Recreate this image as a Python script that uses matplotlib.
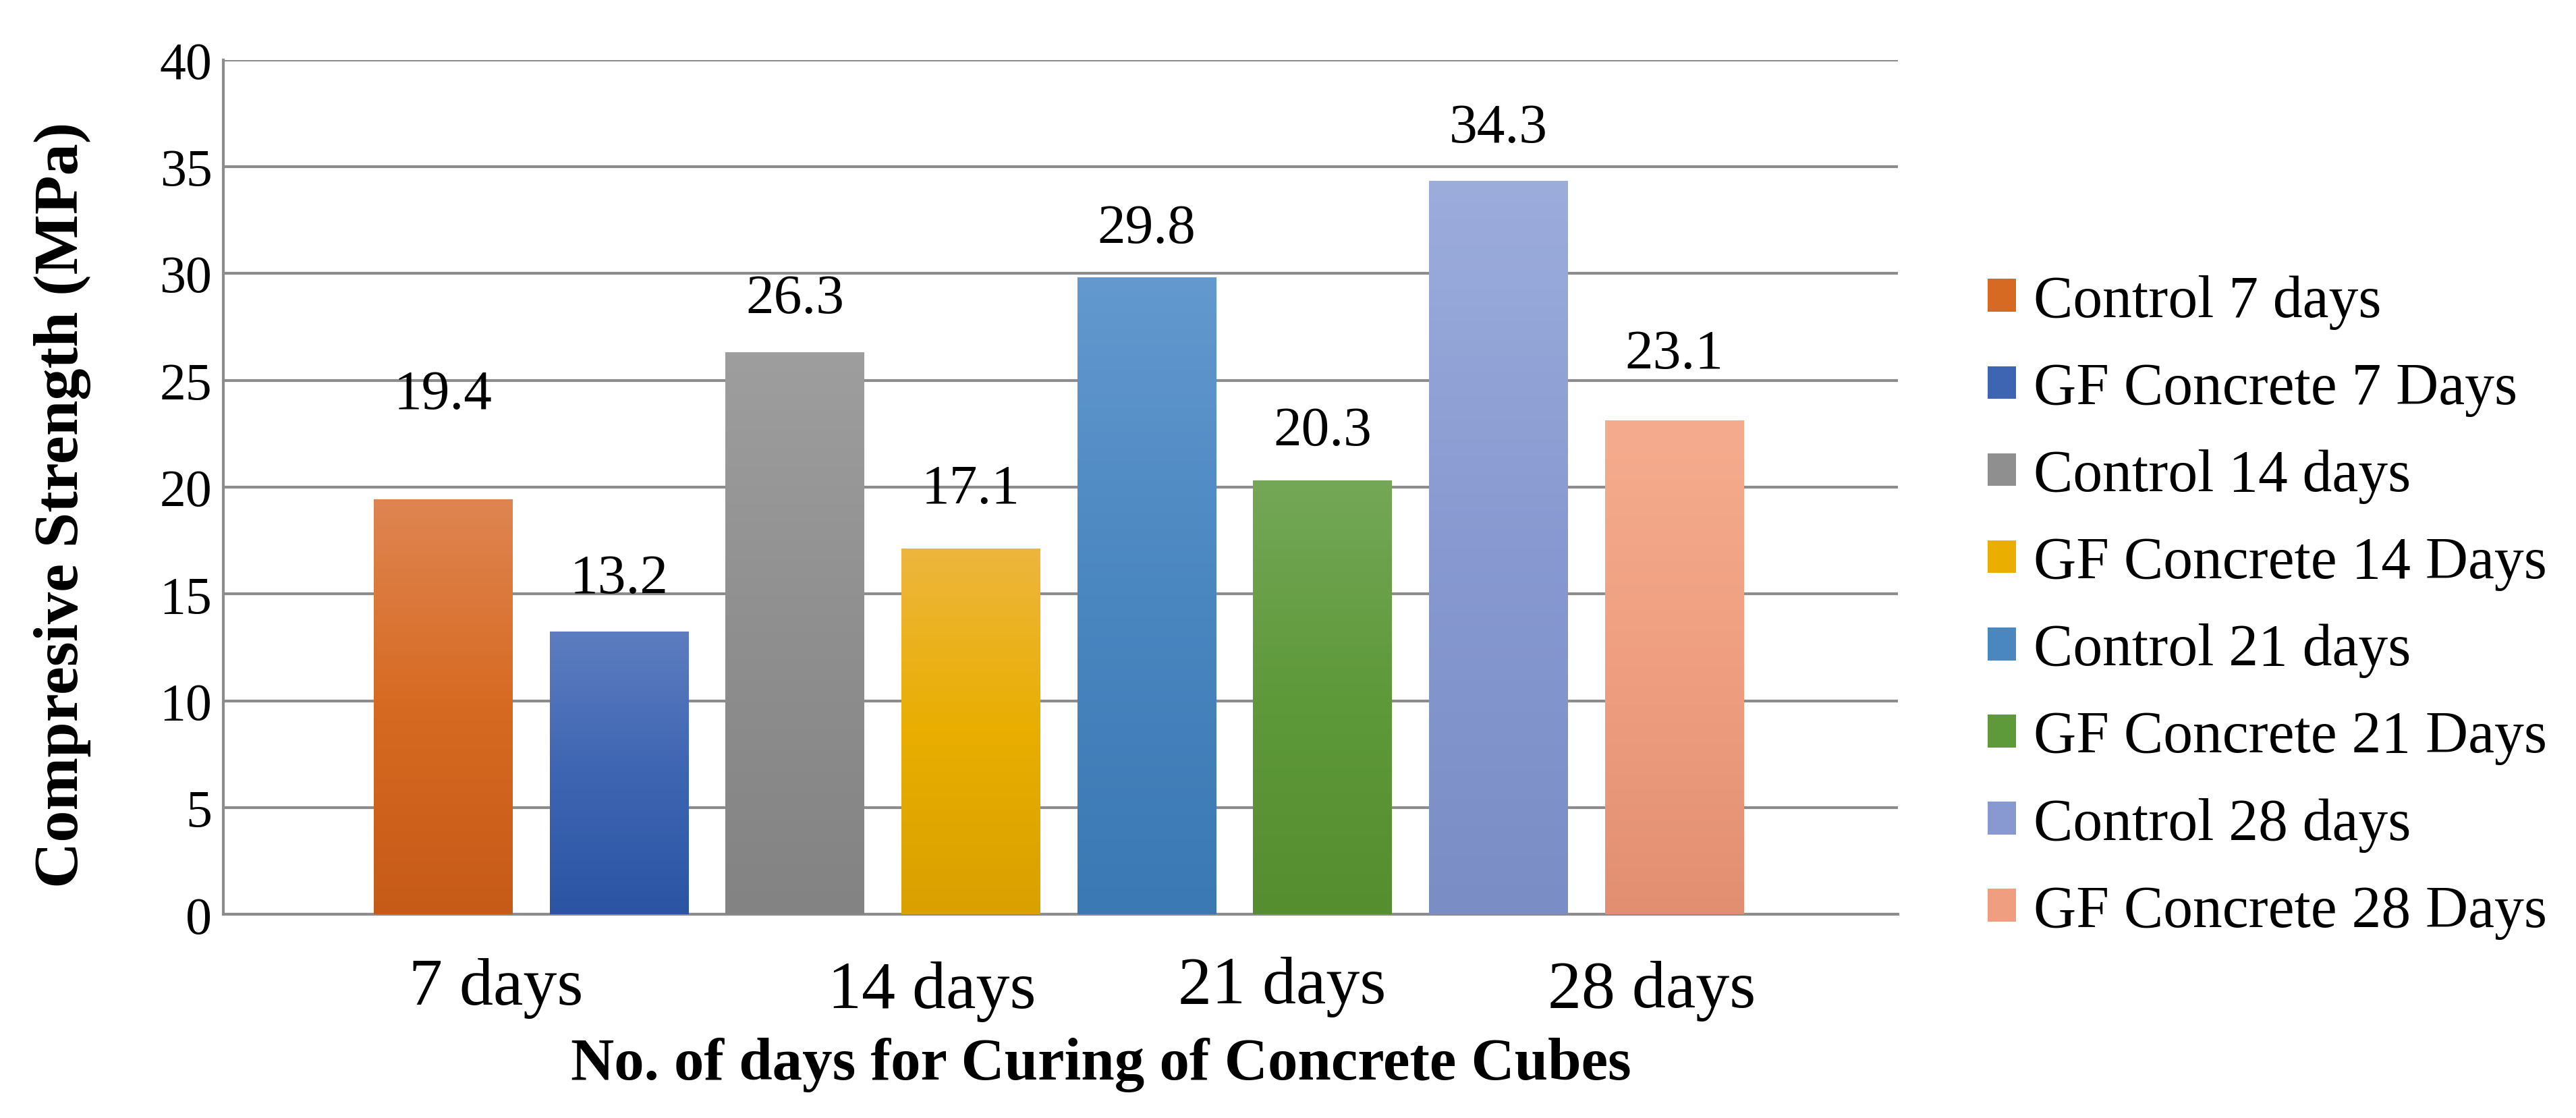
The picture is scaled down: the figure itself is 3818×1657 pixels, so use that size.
import numpy as np
import matplotlib
matplotlib.use("Agg")
import matplotlib.pyplot as plt
from matplotlib.colors import LinearSegmentedColormap
from matplotlib.patches import Patch

series = ["Control 7 days", "GF Concrete 7 Days", "Control 14 days", "GF Concrete 14 Days",
          "Control 21 days", "GF Concrete 21 Days", "Control 28 days", "GF Concrete 28 Days"]
values = [19.4, 13.2, 26.3, 17.1, 29.8, 20.3, 34.3, 23.1]
categories = ["7 days", "14 days", "21 days", "28 days"]
yticks = [0, 5, 10, 15, 20, 25, 30, 35, 40]

# styling (gradient top / bottom colours)
top_colors = ["#DF8552", "#5D7DC0", "#9E9E9E", "#EDB63E", "#6399CE", "#74A757", "#9CADDC", "#F5AC8E"]
mid_colors = ["#D76A22", "#3E65B2", "#8F8F8F", "#E9AE00", "#4A86C0", "#5E993A", "#8799D0", "#EF9F80"]
bot_colors = ["#C65A18", "#2B55A3", "#838383", "#D9A000", "#3B79B4", "#558E2E", "#7A8EC5", "#E28F71"]
label_offsets = [4.9, 2.5, 2.5, 2.8, 2.3, 2.3, 2.5, 3.1]
cat_label_pos = [0.30, 2.78, 4.77, 6.87]
cat_label_dy = [0, 4, -1, 3]

FONT = "Liberation Serif"
plt.rcParams["font.family"] = [FONT, "DejaVu Serif"]

fig = plt.figure(figsize=(38.18, 16.58), dpi=100)
ax = fig.add_axes([0.0867, 0.182, 0.650, 0.764])

x = np.arange(len(values))
width = 0.79
bars = ax.bar(x, values, width=width, color=mid_colors, zorder=3)
for i, b in enumerate(bars):
    cmap = LinearSegmentedColormap.from_list("g%d" % i, [bot_colors[i], mid_colors[i], top_colors[i]])
    grad = np.linspace(1, 0, 256).reshape(-1, 1)
    ax.imshow(grad, extent=[b.get_x(), b.get_x() + b.get_width(), 0, b.get_height()],
              aspect="auto", cmap=cmap, zorder=4, interpolation="bicubic")
    b.set_alpha(0)
    ax.text(b.get_x() + b.get_width() / 2, values[i] + label_offsets[i], "%.1f" % values[i],
            ha="center", va="center", fontsize=60, zorder=5)

ax.set_xlim(-1.25, 8.27)
ax.set_ylim(0, 40)
ax.set_yticks(yticks)
ax.set_yticklabels([str(t) for t in yticks], fontsize=56)
ax.yaxis.grid(True, color="#8C8C8C", linewidth=3.0, zorder=0)
ax.set_axisbelow(True)
ax.tick_params(axis="y", length=0, pad=12)
ax.set_xticks([])
for i, (p, c) in enumerate(zip(cat_label_pos, categories)):
    ax.annotate(c, xy=(p, 0), xycoords="data", xytext=(0, -78 - cat_label_dy[i]),
                textcoords="offset points", ha="center", va="center", fontsize=72)

for s in ["top", "right"]:
    ax.spines[s].set_visible(False)
ax.spines["left"].set_color("#8C8C8C")
ax.spines["left"].set_linewidth(3.0)
ax.spines["bottom"].set_color("#8C8C8C")
ax.spines["bottom"].set_linewidth(3.0)

ax.set_ylabel("Compresive Strength (MPa)", fontsize=68, fontweight="bold")
ax.yaxis.set_label_coords(-0.079, 0.48)
fig.text(0.4275, 0.048, "No. of days for Curing of Concrete Cubes", ha="center", va="center",
         fontsize=64, fontweight="bold")

handles = [Patch(facecolor=mid_colors[i], edgecolor="none") for i in range(len(series))]
leg = fig.legend(handles, series, loc="center left", bbox_to_anchor=(0.751, 0.457),
                 frameon=False, fontsize=63, handlelength=0.48, handleheight=0.48,
                 handletextpad=0.3, labelspacing=0.55)

fig.savefig("out.png", dpi=100)
